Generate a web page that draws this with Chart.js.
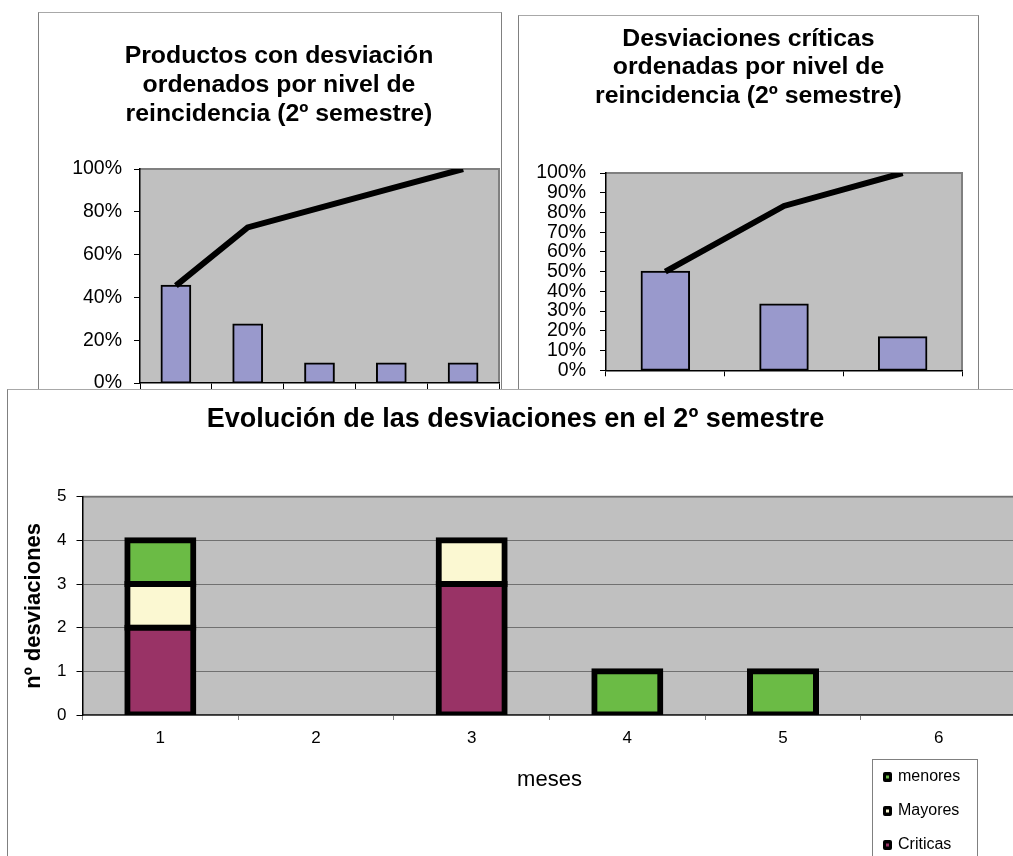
<!DOCTYPE html>
<html><head><meta charset="utf-8">
<script src="https://cdn.jsdelivr.net/npm/chart.js@4.4.1/dist/chart.umd.min.js"></script>
<style>
html,body{margin:0;padding:0;background:#fff;overflow:hidden;width:1013px;height:856px;}
.frame{position:absolute;background:#fff;box-sizing:border-box;border:1px solid #808080;border-top-color:#a8a8a8;}
canvas{display:block;}
</style></head><body>
<div class="frame" style="left:38px;top:12px;width:464px;height:400px;z-index:1;"><canvas id="c1" width="462" height="398" style="width:462px;height:398px"></canvas></div>
<div class="frame" style="left:518px;top:15px;width:461px;height:382px;z-index:2;"><canvas id="c2" width="459" height="380" style="width:459px;height:380px"></canvas></div>
<div class="frame" style="left:7px;top:389px;width:1040px;height:482px;z-index:3;"><canvas id="c3" width="1030" height="470" style="width:1030px;height:470px"></canvas></div>
<script>
// ---- data ----
const prodLabels = ['1', '2', '3', '4', '5'];
const prodShare = [45.5, 27.3, 9.1, 9.1, 9.1];
const prodCumulative = [45.5, 72.7, 81.8, 90.9, 100];

const critLabels = ['1', '2', '3'];
const critShare = [50, 33.3, 16.7];
const critCumulative = [50, 83.3, 100];

const months = ['1', '2', '3', '4', '5', '6'];
const criticas = [2, 0, 3, 0, 0, 0];
const mayores = [1, 0, 1, 0, 0, 0];
const menores = [1, 0, 0, 1, 1, 0];

const title1 = ['Productos con desviación', 'ordenados por nivel de', 'reincidencia (2º semestre)'];
const title2 = ['Desviaciones críticas', 'ordenadas por nivel de', 'reincidencia (2º semestre)'];
const title3 = 'Evolución de las desviaciones en el 2º semestre';

// ---- setup ----
Chart.defaults.font.family = '"Liberation Sans", Arial, sans-serif';
Chart.defaults.color = '#000';

const bgPlugin = {
  id: 'plotBg',
  beforeDraw(chart, args, opts) {
    const {ctx, chartArea: a} = chart;
    ctx.save();
    ctx.fillStyle = '#C0C0C0';
    ctx.fillRect(a.left, a.top, a.width, a.height);
    ctx.strokeStyle = opts.border || '#808080';
    ctx.lineWidth = opts.borderWidth || 2;
    ctx.beginPath();
    ctx.moveTo(a.left, a.top);
    ctx.lineTo(a.right, a.top);
    ctx.lineTo(a.right, a.bottom);
    ctx.stroke();
    ctx.restore();
  }
};

const legendPlugin = {
  id: 'boxLegend',
  afterDraw(chart, args, opts) {
    const ctx = chart.ctx;
    ctx.save();
    ctx.strokeStyle = '#808080';
    ctx.lineWidth = 1;
    ctx.strokeRect(opts.x + 0.5, opts.y + 0.5, opts.w, opts.h);
    ctx.font = '16px "Liberation Sans", Arial, sans-serif';
    ctx.textBaseline = 'middle';
    ctx.textAlign = 'left';
    const ds = chart.data.datasets.slice().reverse();
    ds.forEach((d, i) => {
      const cy = opts.y + opts.first + i * opts.step;
      ctx.fillStyle = '#000';
      ctx.beginPath();
      ctx.roundRect(opts.x + 11, cy - 5, 9, 10, 2);
      ctx.fill();
      ctx.fillStyle = d.backgroundColor;
      ctx.fillRect(opts.x + 14, cy - 1.5, 3, 3);
      ctx.fillStyle = '#000';
      ctx.fillText(d.label, opts.x + 26, cy);
    });
    ctx.restore();
  }
};

function paretoConfig(labels, share, cumulative, titleText, cfg) {
  return {
    type: 'bar',
    data: {
      labels: labels,
      datasets: [
        {type: 'line', label: 'Acumulado', data: cumulative, borderColor: '#000', borderWidth: 6,
         pointRadius: 0, fill: false, tension: 0, order: 0},
        {type: 'bar', label: 'Porcentaje', data: share, backgroundColor: '#9999CC', borderColor: '#000',
         borderWidth: 2, borderSkipped: false, inflateAmount: 1, barPercentage: 0.4, categoryPercentage: 1, order: 1}
      ]
    },
    options: {
      responsive: false, animation: false, devicePixelRatio: 1,
      layout: {padding: {left: cfg.padL, right: cfg.padR, top: 0, bottom: 0}},
      plugins: {
        legend: {display: false}, tooltip: {enabled: false},
        title: {display: true, text: titleText, color: '#000',
                font: {size: 24.8, weight: 'bold', lineHeight: cfg.lh + 'px'},
                padding: {top: cfg.tTop, bottom: cfg.tBot}},
        plotBg: {}
      },
      scales: {
        x: {grid: {display: true, drawOnChartArea: false, offset: true, tickLength: 6, color: '#000'},
            border: {color: '#000', width: 1.5}, ticks: {display: false},
            afterFit: s => { s.height = cfg.xH; }},
        y: {min: 0, max: 100,
            ticks: {stepSize: cfg.step, autoSkip: false, callback: v => v + '%', font: {size: 19.5}, padding: cfg.tickPad},
            grid: {drawOnChartArea: false, tickLength: 6, color: '#000'},
            border: {color: '#000', width: 1.5},
            afterFit: s => { s.width = cfg.yW; }}
      }
    },
    plugins: [bgPlugin]
  };
}

new Chart(document.getElementById('c1'),
  paretoConfig(prodLabels, prodShare, prodCumulative, title1,
    {padL: 20, padR: 2, lh: 29, tTop: 28.5, tBot: 40.5, xH: 28, yW: 81, step: 20, tickPad: 12}));

new Chart(document.getElementById('c2'),
  paretoConfig(critLabels, critShare, critCumulative, title2,
    {padL: 16, padR: 16, lh: 28.5, tTop: 8.75, tBot: 62.75, xH: 17, yW: 71, step: 10, tickPad: 14}));

const stackDefaults = {borderColor: '#000', borderWidth: 6, borderSkipped: false,
  inflateAmount: c => (c.raw > 0 ? 3 : 0), barPercentage: 0.424, categoryPercentage: 1};

new Chart(document.getElementById('c3'), {
  type: 'bar',
  data: {
    labels: months,
    datasets: [
      Object.assign({label: 'Criticas', data: criticas, backgroundColor: '#993366'}, stackDefaults),
      Object.assign({label: 'Mayores', data: mayores, backgroundColor: '#FBF8D2'}, stackDefaults),
      Object.assign({label: 'menores', data: menores, backgroundColor: '#6BBB45'}, stackDefaults)
    ]
  },
  options: {
    responsive: false, animation: false, devicePixelRatio: 1,
    layout: {padding: {left: 6.5, right: 21.5, top: 0, bottom: 65}},
    plugins: {
      legend: {display: false}, tooltip: {enabled: false},
      title: {display: true, text: title3, color: '#000',
              font: {size: 27, weight: 'bold', lineHeight: '32.4px'},
              padding: {top: 13.8, bottom: 60.5}},
      plotBg: {borderWidth: 2},
      boxLegend: {x: 864, y: 369, w: 105, h: 120, first: 18, step: 34}
    },
    scales: {
      x: {stacked: true,
          grid: {display: true, drawOnChartArea: false, offset: true, tickLength: 5, color: '#808080'},
          border: {color: '#303030', width: 1.5},
          ticks: {font: {size: 17}, padding: 8},
          title: {display: true, text: 'meses', font: {size: 22}, padding: {top: 0, bottom: 2.3}},
          afterFit: s => { s.height = 80; }},
      y: {stacked: true, min: 0, max: 5,
          ticks: {stepSize: 1, font: {size: 17}, padding: 10, autoSkip: false},
          grid: {color: '#707070', lineWidth: 1, tickLength: 6, tickColor: '#000'},
          border: {color: '#000', width: 1.5},
          title: {display: true, text: 'nº desviaciones', font: {size: 22, weight: 'bold'}, padding: {top: 6.3, bottom: 0}},
          afterFit: s => { s.width = 68; }}
    }
  },
  plugins: [bgPlugin, legendPlugin]
});
</script>
</body></html>
